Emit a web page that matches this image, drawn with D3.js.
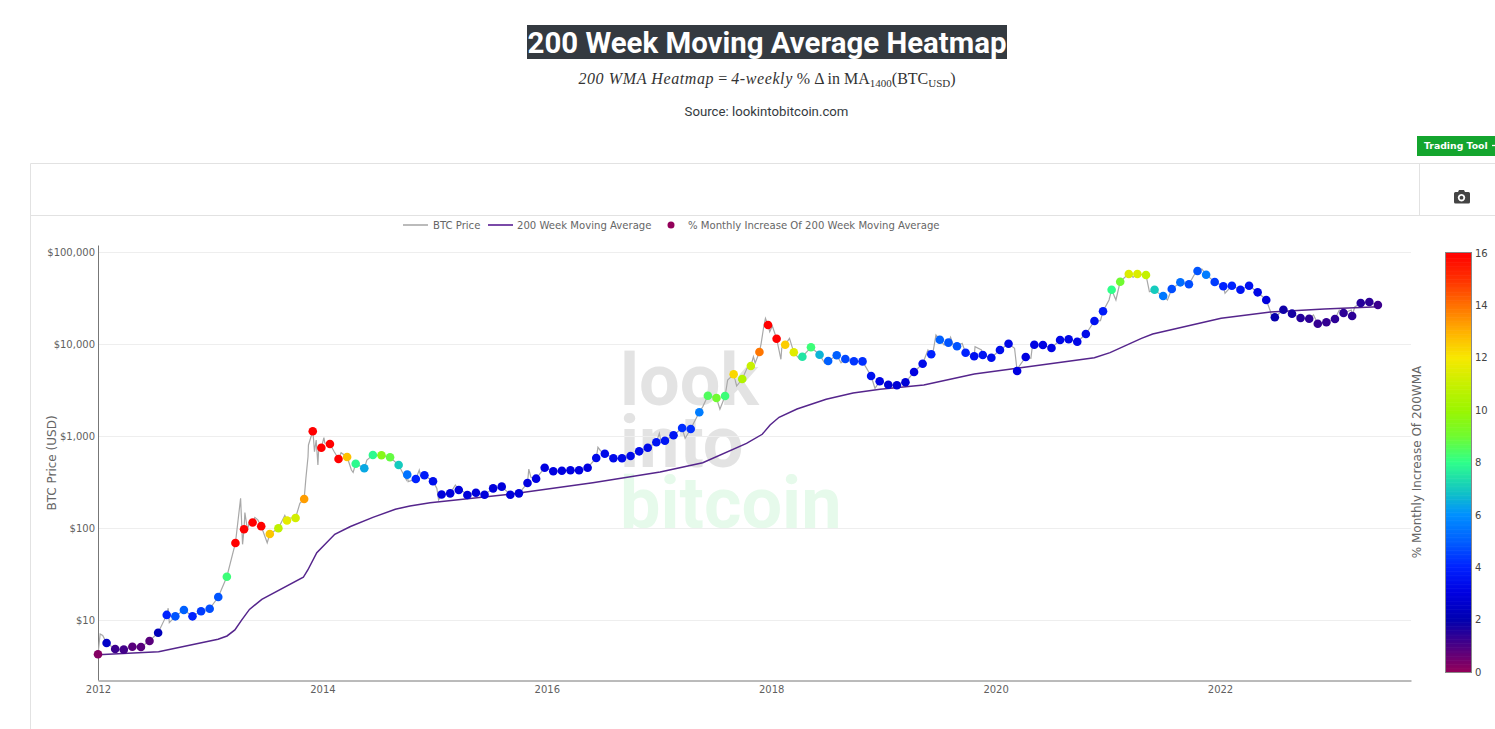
<!DOCTYPE html>
<html>
<head>
<meta charset="utf-8">
<title>200 Week Moving Average Heatmap</title>
<script src="https://cdnjs.cloudflare.com/ajax/libs/d3/7.8.5/d3.min.js"></script>
<style>
html,body{margin:0;padding:0;background:#fff;overflow:hidden}
svg{display:block}
</style>
</head>
<body>
<svg id="chart" width="1495" height="729"></svg>
<script>
// 4-weekly samples starting at 2012-01-01
const dotPrices = [4.29,5.69,4.90,4.82,5.19,5.15,5.99,7.37,11.5,11.1,13.0,11.1,12.6,13.4,18.0,29.9,69.6,98,116,106,87,100.5,122,130,209,1140,755,829,570,599,506,451,629,625,594,490,385,345,379,326,234,241,262,231,245,233,273,285,233,241,312,348,458,419,425,429,429,458,584,650,580,580,614,690,755,865,900,1030,1237,1207,1832,2776,2621,2755,4745,4217,5840,8285,16300,11560,9950,8226,7370,9330,7745,6615,7635,6955,6566,6550,4545,3981,3656,3602,3882,5023,6184,7825,11280,10470,9555,8147,7447,7690,7190,8710,10200,5150,7310,9950,9880,9160,11190,11400,10720,13000,17990,22950,39400,48170,58350,58350,56900,39400,33650,40100,47400,45100,62950,57400,47800,42950,43550,39400,43550,36900,30480,19770,23900,21630,19410,19060,16830,17420,18930,21990,20420,28250,28970,26860];
const dotPct = [0.2,2.5,1.2,1.1,0.8,0.8,0.8,2.2,4,4.8,5,4,4.4,4.7,4.8,8.2,16,16,16,16,12.6,10.8,11.6,11.2,13.3,16,16,16,16,12.7,7.9,6.4,7.9,9.5,8.8,7,5.4,4,3.8,3.4,2.9,2.9,2.9,2.9,2.9,2.9,2.9,2.9,2.9,2.9,3,3,3,3,3,3,3,3,3.3,3.3,3.3,3.3,3.3,3.3,3.3,3.6,3.6,3.6,4.2,4.2,5.6,8.5,9,8.2,12.3,10.5,11,13.9,16,16,12.5,11.5,7.5,8.2,6.6,5,5,4.6,4.3,4.2,3.5,3.1,2.8,2.8,2.8,3,3.3,4,5,4.8,4.8,4,3.5,3.6,3.4,3.4,3.2,3,3,3.1,3.1,3.1,3.2,3.2,3.2,3.3,3.5,3.8,8,9,11.4,11.4,10.9,7,5.5,4.7,5.3,4.7,4.8,5.6,4.4,4,4,3.6,3.5,3.2,2.9,1.9,1.8,1.7,1.5,1.4,1.3,1.3,1.4,1.4,1.4,1.5,1.4,1.2];
// extra BTC price samples between the 4-weekly markers, position in 4-week periods
const spikePeriods = [0.25,0.55,8.17,8.3,16.6,16.83,17.1,17.4,17.6,18.26,18.6,19.7,21.75,22.3,23.5,24.2,24.45,24.5,24.75,25.1,25.2,25.4,25.6,25.7,26.3,26.4,27.5,27.8,28.3,29.5,29.7,31.3,35.9,36.1,37.4,37.55,39.45,39.65,41.6,42.3,50.15,50.4,58.2,58.5,65.35,65.5,68.35,70.4,72.4,73.3,74.35,75.55,76.3,76.5,77.2,77.5,77.7,78.2,78.5,79.5,79.6,80.5,81.7,84.6,86.5,90.45,97.55,102.1,106.7,107.2,118.5,119.7,122.4,124.5,128.5,131.2,136.5,136.7,141.5,144.5,145.9,146.3,96.62,97.25,98.5,99.25,99.55,100.6,102.85,108.6,108.75,116.7,117.7,120.5,123.4,127.6,69.35];
const spikePrices = [7.13,6.87,13.6,9.46,213,67.3,149,96.4,115,132,124,70,139,130,188,351,603,809,964,916,683,916,490,769,970,850,683,614,667,432,408,555,337,323,432,372,273,204,297,262,443,360,763,701,1083,916,956,2108,1976,4113,3539,5510,7370,6295,10300,15600,19270,13770,15890,6900,9160,11670,6900,6250,6340,3342,12690,9470,9100,5740,30480,55600,37500,30480,66200,36040,22750,18470,20930,23700,23700,25570,8710,8710,9880,11970,9880,10300,8710,7080,9160,18150,30480,53700,36560,56900,1403];
// 200 week moving average
const wmaYears = [2012.00,2012.54,2013.07,2013.15,2013.22,2013.28,2013.35,2013.46,2013.83,2013.87,2013.95,2014.11,2014.25,2014.45,2014.65,2014.78,2014.96,2015.67,2016.41,2017.01,2017.39,2017.78,2017.92,2017.99,2018.07,2018.23,2018.49,2018.73,2018.97,2019.36,2019.81,2020.19,2020.88,2021.02,2021.30,2021.40,2022.01,2022.45,2022.93,2023.41];
const wmaValues = [4.25,4.58,6.25,6.79,7.89,10.1,13.2,17.0,29.5,35.4,54.6,86.5,105,132,162,176,191,235,315,411,519,843,1057,1334,1618,1991,2536,2971,3258,3630,4779,5510,7190,8150,11670,13000,19270,22550,24300,25760];
// axes
const yearTicks = [2012,2014,2016,2018,2020,2022];
const priceTicks = [10,100,1000,10000,100000];
const pctTicks = [0,2,4,6,8,10,12,14,16];
// colour scale
const colorStops = [0,1,2,3,4,5,6,6.8,8,9,10,11,12,13,14,15,16];
const colorHex = ["#93005a","#4a0085","#0000b0","#0000e0","#0022ff","#0060ff","#0090ff","#10c0c8","#2fff8a","#70fb30","#9cf500","#c8f000","#f8e800","#ffb000","#ff7000","#ff3000","#ff0000"];
// text
const titleText = "200 Week Moving Average Heatmap";
const sourceText = "Source: lookintobitcoin.com";
const legendLabels = ["BTC Price","200 Week Moving Average","% Monthly Increase Of 200 Week Moving Average"];
const watermarkWords = ["look","into","bitcoin"];

const PERIOD = 0.07656;
const yearOf = p => 2012 + p*PERIOD;
const svg = d3.select("#chart");
const UI = "'DejaVu Sans',sans-serif";

const x = d3.scaleLinear().domain([2012, 2012+1313/112.2]).range([98,1411]);
const y = d3.scaleLog().domain([Math.pow(10,1+(620.5-680)/92), Math.pow(10,1+(620.5-245)/92)]).range([680,245]);
const color = d3.scaleLinear().domain(colorStops).range(colorHex).clamp(true);
const pctY = d3.scaleLinear().domain([0,16]).range([672,253]);

// header
svg.append("rect").attr("x",527).attr("y",25).attr("width",480).attr("height",34).attr("fill","#343a40");
svg.append("text").attr("x",767).attr("y",53).attr("text-anchor","middle")
  .attr("font-family","Roboto").attr("font-weight",700).attr("font-size",29.4).attr("fill","#fff").text(titleText);
const math = svg.append("text").attr("x",767).attr("y",84).attr("text-anchor","middle")
  .attr("font-family","'Liberation Serif',serif").attr("font-size",16).attr("fill","#333");
math.append("tspan").attr("font-style","italic").attr("letter-spacing",0.6).text("200 WMA Heatmap");
math.append("tspan").text(" = ");
math.append("tspan").attr("font-style","italic").attr("letter-spacing",0.6).text("4-weekly");
math.append("tspan").text(" % Δ in MA");
math.append("tspan").attr("font-size",11).attr("dy",3).text("1400");
math.append("tspan").attr("dy",-3).text("(BTC");
math.append("tspan").attr("font-size",11).attr("dy",3).text("USD");
math.append("tspan").attr("dy",-3).text(")");
svg.append("text").attr("x",766.5).attr("y",116).attr("text-anchor","middle")
  .attr("font-family","Roboto").attr("font-size",13.2).attr("fill","#343a40").text(sourceText);

// trading tool tab
svg.append("rect").attr("x",1417).attr("y",136).attr("width",78).attr("height",20).attr("fill","#14a52e");
svg.append("text").attr("x",1424).attr("y",149).attr("font-family","'DejaVu Sans'").attr("font-weight",700).attr("font-size",9.3).attr("fill","#fff").text("Trading Tool");
svg.append("line").attr("x1",1492).attr("x2",1495).attr("y1",145.5).attr("y2",145.5).attr("stroke","#fff").attr("stroke-width",1.3);

// card frame
const frame = "#e2e2e2";
[[30,163,1495,163],[30,215,1495,215],[30,163,30,729],[1419,163,1419,215]].forEach(l=>{
  svg.append("line").attr("x1",l[0]+.5).attr("y1",l[1]+.5).attr("x2",l[2]+.5).attr("y2",l[3]+.5).attr("stroke",frame);
});
// camera icon
svg.append("path").attr("fill","#444").attr("fill-rule","evenodd")
  .attr("d","M1455 192h3l1-2h5l1 2h3.5a1.5 1.5 0 0 1 1.5 1.5v8.5a1.5 1.5 0 0 1-1.5 1.5h-13a1.5 1.5 0 0 1-1.5-1.5v-8.5a1.5 1.5 0 0 1 1.5-1.5zM1461.5 194a3.7 3.7 0 1 0 .01 0zM1461.5 195.8a1.9 1.9 0 1 1-.01 0z");

// watermark
const wmY = [405,467,528], wmFill = ["#e3e3e3","#e3e3e3","#e6faeb"];
watermarkWords.forEach((w,i)=>{
  svg.append("text").attr("x",620).attr("y",wmY[i]).attr("font-family","Roboto").attr("font-weight",700)
    .attr("font-size",72).attr("fill",wmFill[i]).text(w);
});

// grid
svg.append("g").selectAll("line").data(priceTicks).join("line")
  .attr("x1",98).attr("x2",1411).attr("y1",d=>y(d)).attr("y2",d=>y(d)).attr("stroke","#eee");

// axes
const xAxis = svg.append("g").attr("transform","translate(0,680.5)")
  .call(d3.axisBottom(x).tickValues(yearTicks).tickFormat(d3.format("d")).tickSize(0).tickPadding(5));
const yAxis = svg.append("g").attr("transform","translate(98,0)")
  .call(d3.axisLeft(y).tickValues(priceTicks).tickFormat(d=>"$"+d3.format(",")(d)).tickSize(0).tickPadding(3));
[xAxis,yAxis].forEach(g=>{
  g.selectAll("path").attr("stroke","#777");
  g.selectAll("text").attr("font-family",UI).attr("font-size",10).attr("fill","#5f5f5f");
});
svg.append("text").attr("transform","translate(56,463) rotate(-90)").attr("text-anchor","middle")
  .attr("font-family",UI).attr("font-size",12).attr("fill","#666").text("BTC Price (USD)");

// series
const pricePts = dotPrices.map((v,i)=>[yearOf(i),v])
  .concat(spikePeriods.map((p,i)=>[yearOf(p),spikePrices[i]]))
  .sort((a,b)=>d3.ascending(a[0],b[0]));
const line = d3.line().x(d=>x(d[0])).y(d=>y(d[1]));
svg.append("path").datum(pricePts).attr("d",line).attr("fill","none").attr("stroke","#a8a8a8").attr("stroke-width",1.2);
svg.append("path").datum(wmaYears.map((d,i)=>[d,wmaValues[i]])).attr("d",line).attr("fill","none").attr("stroke","#55258c").attr("stroke-width",1.5);
svg.append("g").selectAll("circle").data(dotPrices).join("circle")
  .attr("cx",(d,i)=>x(yearOf(i))).attr("cy",d=>y(d)).attr("r",4.3).attr("fill",(d,i)=>color(dotPct[i]));

// legend
const lg = svg.append("g").attr("font-family",UI).attr("font-size",10.1).attr("fill","#666");
lg.append("line").attr("x1",403).attr("x2",428).attr("y1",225).attr("y2",225).attr("stroke","#bbb").attr("stroke-width",2);
lg.append("text").attr("x",433).attr("y",229).text(legendLabels[0]);
lg.append("line").attr("x1",488).attr("x2",513).attr("y1",225).attr("y2",225).attr("stroke","#7a4aa8").attr("stroke-width",2);
lg.append("text").attr("x",517).attr("y",229).text(legendLabels[1]);
lg.append("circle").attr("cx",671).attr("cy",225).attr("r",3.5).attr("fill",color(0));
lg.append("text").attr("x",688).attr("y",229).text(legendLabels[2]);

// colour bar
svg.append("g").selectAll("rect").data(d3.range(0,16,0.05)).join("rect")
  .attr("x",1446).attr("width",26).attr("y",d=>pctY(d+0.05)).attr("height",d=>pctY(d)-pctY(d+0.05)+0.6).attr("fill",d=>color(d));
svg.append("rect").attr("x",1445.5).attr("y",252.5).attr("width",26).attr("height",420).attr("fill","none").attr("stroke","#888");
const cAxis = svg.append("g").attr("transform","translate(1472,0)")
  .call(d3.axisRight(pctY).tickValues(pctTicks).tickFormat(d3.format("d")).tickSize(0).tickPadding(3));
cAxis.select("path").remove();
cAxis.selectAll("text").attr("font-family",UI).attr("font-size",10).attr("fill","#444");
svg.append("text").attr("transform","translate(1421,462) rotate(-90)").attr("text-anchor","middle")
  .attr("font-family",UI).attr("font-size",12).attr("fill","#666").text("% Monthly Increase Of 200WMA");
</script>
</body>
</html>
